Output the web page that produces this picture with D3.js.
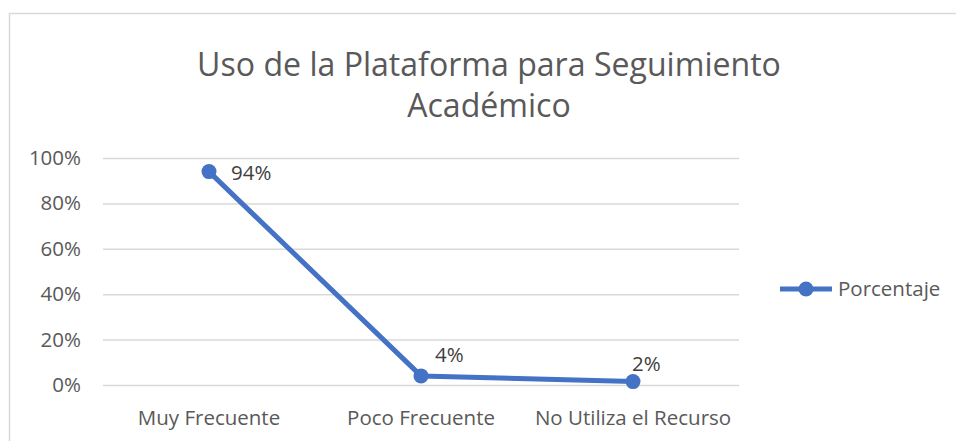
<!DOCTYPE html>
<html>
<head>
<meta charset="utf-8">
<script src="https://cdn.jsdelivr.net/npm/d3@7"></script>
<style>
  body { margin: 0; background: #fff; }
  svg { display: block; font-family: "Open Sans", sans-serif; }
</style>
</head>
<body>
<svg id="chart"></svg>
<script>
const width = 956;
const height = 441;

const categories = ['Muy Frecuente', 'Poco Frecuente', 'No Utiliza el Recurso'];
const values = [0.94, 0.04, 0.015];
const valueLabels = ['94%', '4%', '2%'];
const yTicks = [0, 0.2, 0.4, 0.6, 0.8, 1];
const seriesName = 'Porcentaje';
const titleLines = ['Uso de la Plataforma para Seguimiento', 'Académico'];

const blue = '#4472C4';
const grey = '#595959';
const fontSize = 20.5;

const svg = d3.select('#chart')
  .attr('width', width)
  .attr('height', height);

// chart area border
svg.append('rect')
  .attr('x', 9.5).attr('y', 13.5)
  .attr('width', width).attr('height', height)
  .attr('fill', 'none')
  .attr('stroke', '#d9d9d9')
  .attr('stroke-width', 1.5);

const plot = { left: 103, right: 739, top: 158, bottom: 385 };

const x = d3.scaleBand()
  .domain(categories)
  .range([plot.left, plot.right]);

const y = d3.scaleLinear()
  .domain([0, 1])
  .range([plot.bottom, plot.top]);

// title, fitted to the measured width of the first line
const title = svg.append('text')
  .attr('text-anchor', 'middle')
  .attr('fill', grey)
  .attr('font-size', 30);
title.selectAll('tspan')
  .data(titleLines)
  .enter()
  .append('tspan')
    .attr('x', 489)
    .attr('y', (d, i) => 76 + i * 41)
    .text((d) => d);
const w0 = title.select('tspan').node().getComputedTextLength();
title.attr('font-size', 30 * 584 / w0);

// gridlines + y labels
const yAxis = svg.append('g')
  .attr('transform', `translate(${plot.left},0)`)
  .call(d3.axisLeft(y)
    .tickValues(yTicks)
    .tickSize(-(plot.right - plot.left))
    .tickPadding(22)
    .tickFormat(d3.format('.0%')));
yAxis.select('.domain').remove();
yAxis.selectAll('.tick line').attr('stroke', '#d9d9d9').attr('stroke-width', 1.5);
yAxis.selectAll('.tick text')
  .attr('fill', grey)
  .attr('font-size', fontSize)
  .attr('font-family', '"Open Sans", sans-serif');

// category labels
const xAxis = svg.append('g')
  .attr('transform', `translate(0,${plot.bottom})`)
  .call(d3.axisBottom(x).tickSize(0).tickPadding(25));
xAxis.select('.domain').remove();
xAxis.selectAll('.tick text')
  .attr('fill', grey)
  .attr('font-size', fontSize)
  .attr('font-family', '"Open Sans", sans-serif');

const cx = (d, i) => x(categories[i]) + x.bandwidth() / 2;

const line = d3.line()
  .x(cx)
  .y((d) => y(d));

svg.append('path')
  .datum(values)
  .attr('d', line)
  .attr('fill', 'none')
  .attr('stroke', blue)
  .attr('stroke-width', 5)
  .attr('stroke-linejoin', 'round');

svg.selectAll('.dot')
  .data(values)
  .enter()
  .append('circle')
    .attr('class', 'dot')
    .attr('cx', cx)
    .attr('cy', (d) => y(d))
    .attr('r', 7.5)
    .attr('fill', blue);

// data labels (offsets mimic the Excel placement)
const labelOffset = [[22, 8], [14, -14], [-1, -11]];
svg.selectAll('.vlabel')
  .data(valueLabels)
  .enter()
  .append('text')
    .attr('class', 'vlabel')
    .attr('x', (d, i) => cx(d, i) + labelOffset[i][0])
    .attr('y', (d, i) => y(values[i]) + labelOffset[i][1])
    .attr('fill', '#404040')
    .attr('font-size', fontSize)
    .text((d) => d);

// legend
const legend = svg.append('g').attr('transform', 'translate(780,289)');
legend.append('line')
  .attr('x1', 0).attr('x2', 52)
  .attr('stroke', blue).attr('stroke-width', 5);
legend.append('circle')
  .attr('cx', 26).attr('r', 7.5).attr('fill', blue);
legend.append('text')
  .attr('x', 58).attr('dy', '0.35em')
  .attr('fill', grey)
  .attr('font-size', fontSize)
  .text(seriesName);
</script>
</body>
</html>
